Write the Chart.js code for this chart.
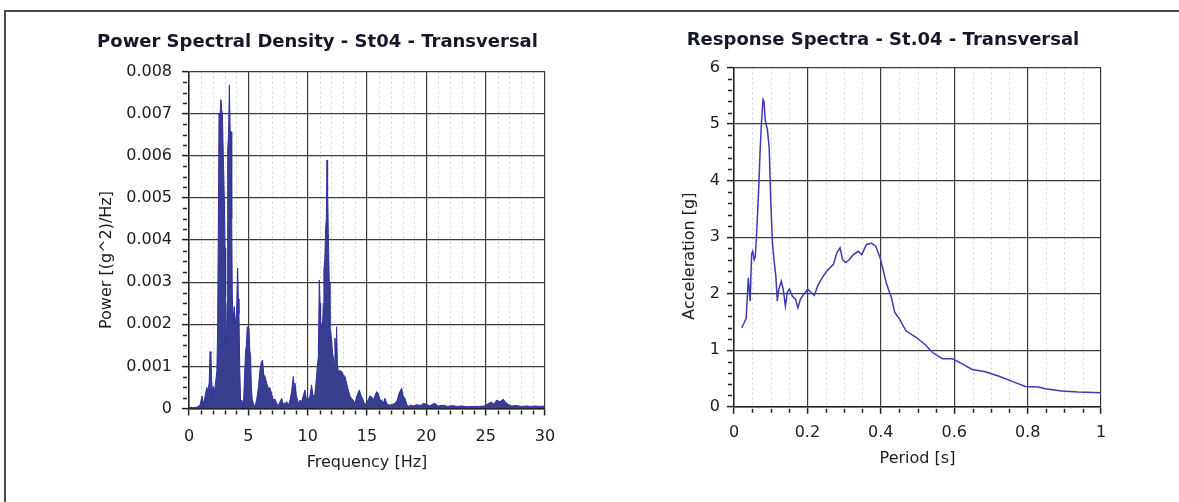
<!DOCTYPE html>
<html>
<head>
<meta charset="utf-8">
<title>St04 - Transversal</title>
<script src="https://cdn.jsdelivr.net/npm/chart.js@4.4.0/dist/chart.umd.min.js"></script>
<style>
  html, body { margin: 0; padding: 0; background: #fff; }
  body { width: 1179px; height: 502px; position: relative; overflow: hidden; }
  #frame { position: absolute; left: 4px; top: 10px; width: 1200px; height: 520px;
           border-left: 2px solid #4a4a4a; border-top: 2px solid #4a4a4a; }
  .box { position: absolute; top: 0; height: 502px; }
  #psdBox { left: 0; width: 590px; }
  #rsBox { left: 590px; width: 589px; }
</style>
</head>
<body>
<div id="frame"></div>
<div class="box" id="psdBox"><canvas id="psdChart"></canvas></div>
<div class="box" id="rsBox"><canvas id="rsChart"></canvas></div>

<script>
// Power spectral density (Hz -> (g^2)/Hz)
const psdFreq = [
  0.0, 0.3, 0.65, 0.93, 1.1, 1.2, 1.35, 1.5, 1.57, 1.7, 1.77, 1.85, 1.91, 2.0, 2.05, 2.15,
  2.25, 2.35, 2.41, 2.47, 2.53, 2.6, 2.69, 2.75, 2.81, 2.9, 2.98, 3.04, 3.09, 3.13, 3.17, 3.21,
  3.26, 3.33, 3.4, 3.47, 3.54, 3.6, 3.65, 3.72, 3.82, 3.9, 4.01, 4.1, 4.16, 4.21, 4.28, 4.35,
  4.45, 4.58, 4.66, 4.77, 4.84, 4.91, 5.05, 5.12, 5.19, 5.26, 5.33, 5.45, 5.56, 5.7, 5.85, 5.98,
  6.1, 6.2, 6.3, 6.4, 6.55, 6.68, 6.8, 6.96, 7.1, 7.25, 7.39, 7.55, 7.7, 7.81, 7.95, 8.1,
  8.23, 8.4, 8.51, 8.65, 8.79, 8.86, 8.93, 9.05, 9.21, 9.35, 9.49, 9.63, 9.77, 9.9, 10.05, 10.2,
  10.33, 10.45, 10.6, 10.7, 10.81, 10.9, 10.98, 11.04, 11.09, 11.18, 11.26, 11.32, 11.37, 11.44, 11.51, 11.57,
  11.63, 11.68, 11.74, 11.82, 11.88, 11.95, 12.02, 12.1, 12.16, 12.23, 12.3, 12.38, 12.44, 12.5, 12.58, 12.72,
  12.86, 13.0, 13.14, 13.28, 13.42, 13.56, 13.7, 13.84, 13.98, 14.15, 14.35, 14.5, 14.63, 14.8, 14.97, 15.1,
  15.25, 15.38, 15.53, 15.67, 15.81, 15.95, 16.09, 16.23, 16.37, 16.51, 16.7, 16.93, 17.15, 17.36, 17.55, 17.7,
  17.78, 17.92, 18.05, 18.2, 18.35, 18.48, 18.7, 18.9, 19.2, 19.5, 19.75, 20.02, 20.3, 20.5, 20.73, 21.0,
  21.4, 21.8, 22.2, 22.6, 23.0, 23.5, 24.0, 24.5, 24.9, 25.23, 25.5, 25.7, 25.92, 26.2, 26.48, 26.7,
  26.9, 27.2, 27.6, 28.0, 28.4, 28.8, 29.2, 29.6, 30.0
];
const psdPower = [
  0.00003, 0.00002, 0.00003, 0.00008, 0.0003, 0.0001, 0.00028, 0.0005, 0.0004, 0.0006, 0.00135, 0.0013, 0.00066, 0.0003, 0.00052, 0.0004,
  0.00064, 0.0009, 0.00182, 0.0042, 0.007, 0.0069, 0.00733, 0.0071, 0.007, 0.0059, 0.00495, 0.0038, 0.00266, 0.0015, 0.00146, 0.0025,
  0.00614, 0.0065, 0.00768, 0.0066, 0.00657, 0.0045, 0.00262, 0.0021, 0.00242, 0.002, 0.00226, 0.00333, 0.0026, 0.00226, 0.0009, 0.00016,
  0.0002, 0.00005, 0.0006, 0.00138, 0.0015, 0.00194, 0.0019, 0.0014, 0.00123, 0.0005, 0.0002, 0.0001, 0.00004, 0.0002, 0.0005, 0.00091,
  0.0011, 0.00115, 0.0008, 0.00076, 0.0006, 0.00048, 0.0005, 0.00036, 0.0002, 0.00022, 0.00012, 0.00008, 0.00018, 0.00024, 0.0001, 0.00012,
  0.00016, 0.00008, 0.0002, 0.0004, 0.00076, 0.0005, 0.0006, 0.0003, 0.00012, 0.0002, 0.00016, 0.0003, 0.00044, 0.0002, 0.0002, 0.0003,
  0.00056, 0.0003, 0.00032, 0.0006, 0.00099, 0.00123, 0.00305, 0.0025, 0.0021, 0.0019, 0.00203, 0.0025, 0.0033, 0.0035, 0.00424, 0.0045,
  0.0059, 0.0052, 0.00416, 0.003, 0.00194, 0.0018, 0.00163, 0.0013, 0.00123, 0.0011, 0.00167, 0.0012, 0.00194, 0.0011, 0.00087, 0.0009,
  0.00088, 0.0008, 0.00076, 0.0006, 0.00044, 0.0003, 0.00024, 0.0002, 0.00012, 0.0003, 0.00044, 0.0003, 0.00024, 0.0001, 0.00012, 0.0002,
  0.0003, 0.00028, 0.0002, 0.0003, 0.0004, 0.00036, 0.0002, 0.0002, 0.00012, 0.00024, 0.0001, 0.00008, 0.0001, 0.00012, 0.0002, 0.00036,
  0.00036, 0.00048, 0.0003, 0.00024, 0.0001, 0.00005, 0.00008, 0.00006, 0.00009, 0.00007, 0.00012, 0.0001, 0.00006, 0.0001, 0.00012, 0.00006,
  0.00008, 0.00005, 0.00007, 0.00005, 0.00006, 0.00004, 0.00005, 0.00005, 0.00006, 0.00012, 0.00015, 0.0001, 0.0002, 0.00016, 0.00022, 0.00014,
  0.0001, 0.00006, 0.00007, 0.00005, 0.00006, 0.00005, 0.00006, 0.00005, 0.00006
];

// Response spectrum (period s -> acceleration g)
const rsPeriod = [
  0.021, 0.028, 0.033, 0.037, 0.039, 0.044, 0.048, 0.051, 0.055, 0.058, 0.062, 0.068, 0.071, 0.075, 0.079, 0.082,
  0.085, 0.091, 0.096, 0.1, 0.105, 0.109, 0.114, 0.118, 0.122, 0.129, 0.134, 0.14, 0.145, 0.151, 0.159, 0.168,
  0.174, 0.181, 0.19, 0.201, 0.21, 0.219, 0.228, 0.24, 0.253, 0.271, 0.28, 0.289, 0.296, 0.305, 0.314, 0.325,
  0.339, 0.348, 0.361, 0.375, 0.386, 0.397, 0.406, 0.415, 0.429, 0.438, 0.451, 0.469, 0.496, 0.519, 0.541, 0.568,
  0.595, 0.622, 0.649, 0.685, 0.722, 0.758, 0.794, 0.83, 0.848, 0.893, 0.938, 1.0
];
const rsAccel = [
  1.4, 1.49, 1.56, 2.02, 2.28, 1.87, 2.7, 2.75, 2.6, 2.65, 3.1, 3.96, 4.51, 5.04, 5.43, 5.39,
  5.07, 4.9, 4.57, 3.66, 2.87, 2.6, 2.31, 1.87, 2.08, 2.22, 2.08, 1.78, 2.02, 2.08, 1.96, 1.9,
  1.75, 1.9, 1.99, 2.08, 2.02, 1.97, 2.14, 2.28, 2.4, 2.52, 2.72, 2.81, 2.6, 2.55, 2.6, 2.69,
  2.75, 2.69, 2.87, 2.89, 2.84, 2.66, 2.43, 2.19, 1.93, 1.67, 1.55, 1.34, 1.23, 1.11, 0.96, 0.85,
  0.85, 0.76, 0.66, 0.62, 0.54, 0.45, 0.36, 0.35, 0.32, 0.28, 0.26, 0.25
];

const FONT = '"DejaVu Sans", Verdana, sans-serif';
const INK = '#1c1c1c';
const GRID = '#3c3c3c';

Chart.defaults.font.family = FONT;
Chart.defaults.color = INK;
Chart.defaults.animation = false;

// minor ticks + dashed light minor grid, positioned by the scales
const minorTicks = {
  id: 'minorTicks',
  beforeDraw(chart, args, opts) {
    const { ctx, chartArea: a, scales: { x } } = chart;
    const n = Math.round((x.max - x.min) / opts.x);
    ctx.save();
    ctx.strokeStyle = '#d2d2d2';
    ctx.lineWidth = 1;
    ctx.setLineDash([2, 3]);
    for (let i = 1; i < n; i++) {
      if (i % opts.xPer === 0) continue;
      const px = Math.round(x.getPixelForValue(x.min + i * opts.x)) + 0.5;
      ctx.beginPath();
      ctx.moveTo(px, a.top);
      ctx.lineTo(px, a.bottom);
      ctx.stroke();
    }
    ctx.restore();
  },
  afterDraw(chart, args, opts) {
    const { ctx, chartArea: a, scales: { x, y } } = chart;
    ctx.save();
    ctx.strokeStyle = '#222';
    ctx.lineWidth = 1.5;
    const nx = Math.round((x.max - x.min) / opts.x);
    for (let i = 0; i <= nx; i++) {
      if (i % opts.xPer === 0) continue;
      const px = Math.round(x.getPixelForValue(x.min + i * opts.x)) + 0.5;
      ctx.beginPath();
      ctx.moveTo(px, a.bottom + 2);
      ctx.lineTo(px, a.bottom + 6);
      ctx.stroke();
    }
    const ny = Math.round((y.max - y.min) / opts.y);
    for (let i = 0; i <= ny; i++) {
      if (i % opts.yPer === 0) continue;
      const py = Math.round(y.getPixelForValue(y.min + i * opts.y)) + 0.5;
      ctx.beginPath();
      ctx.moveTo(a.left - 6, py);
      ctx.lineTo(a.left - 2, py);
      ctx.stroke();
    }
    ctx.restore();
  }
};

// vertical axis title, placed against the plot area
const yTitle = {
  id: 'yTitle',
  afterDraw(chart, args, opts) {
    const { ctx, chartArea: a } = chart;
    ctx.save();
    ctx.translate(a.left - opts.dx, (a.top + a.bottom) / 2 + opts.dy);
    ctx.rotate(-Math.PI / 2);
    ctx.font = '16px ' + FONT;
    ctx.fillStyle = INK;
    ctx.textAlign = 'center';
    ctx.textBaseline = 'middle';
    ctx.fillText(opts.text, 0, 0);
    ctx.restore();
  }
};

function axisX(min, max, step, title, labelPad, titlePad, fmt) {
  return {
    type: 'linear', min: min, max: max,
    afterFit: s => { s.height = 66; },
    border: { display: true, color: '#222', width: 1.5 },
    grid: { color: GRID, lineWidth: 1.2, tickLength: 7, tickColor: '#222', tickWidth: 1.5 },
    ticks: { stepSize: step, padding: labelPad, maxRotation: 0, font: { size: 16 }, color: INK, callback: fmt },
    title: { display: true, text: title, font: { size: 16 }, color: INK, padding: { top: 0, bottom: titlePad } }
  };
}

function axisY(min, max, step, width, labelPad, fmt) {
  return {
    min: min, max: max,
    afterFit: s => { s.width = width; },
    border: { display: true, color: '#222', width: 1.5 },
    grid: { color: GRID, lineWidth: 1.2, tickLength: 7, tickColor: '#222', tickWidth: 1.5 },
    ticks: { stepSize: step, padding: labelPad, font: { size: 16 }, color: INK, callback: fmt }
  };
}

function chartTitle(text, top, bottom) {
  return {
    display: true, text: text, color: '#17172a',
    font: { size: 18, weight: 'bold' },
    padding: { top: top, bottom: bottom }
  };
}

new Chart(document.getElementById('psdChart'), {
  type: 'line',
  data: {
    datasets: [{
      data: psdFreq.map((f, i) => ({ x: f, y: psdPower[i] })),
      borderColor: '#2e2ea6',
      backgroundColor: '#393e8e',
      borderWidth: 1,
      fill: 'origin',
      pointRadius: 0,
      tension: 0
    }]
  },
  options: {
    responsive: true,
    maintainAspectRatio: false,
    layout: { padding: { left: 90, right: 45, top: 0, bottom: 27.5 } },
    scales: {
      x: axisX(0, 30, 5, 'Frequency [Hz]', 12, 1.9, v => String(Math.round(v))),
      y: axisY(0, 0.008, 0.001, 99, 10, v => v === 0 ? '0' : v.toFixed(3))
    },
    plugins: {
      legend: { display: false },
      tooltip: { enabled: false },
      title: chartTitle('Power Spectral Density - St04 - Transversal', 31.2, 18.7),
      minorTicks: { x: 1, xPer: 5, y: 0.00025, yPer: 4 },
      yTitle: { text: 'Power [(g^2)/Hz]', dx: 82, dy: 20 }
    }
  },
  plugins: [minorTicks, yTitle]
});

new Chart(document.getElementById('rsChart'), {
  type: 'line',
  data: {
    datasets: [{
      data: rsPeriod.map((p, i) => ({ x: p, y: rsAccel[i] })),
      borderColor: '#3b3bb4',
      borderWidth: 1.5,
      fill: false,
      pointRadius: 0,
      tension: 0
    }]
  },
  options: {
    responsive: true,
    maintainAspectRatio: false,
    layout: { padding: { left: 75, right: 78, top: 0, bottom: 29.2 } },
    scales: {
      x: axisX(0, 1, 0.2, 'Period [s]', 9.6, 4.2, v => String(Math.round(v * 10) / 10)),
      y: axisY(0, 6, 1, 69, 7)
    },
    plugins: {
      legend: { display: false },
      tooltip: { enabled: false },
      title: chartTitle('Response Spectra - St.04 - Transversal', 29.2, 16.7),
      minorTicks: { x: 0.05, xPer: 4, y: 0.2, yPer: 5 },
      yTitle: { text: 'Acceleration [g]', dx: 44, dy: 19 }
    }
  },
  plugins: [minorTicks, yTitle]
});
</script>
</body>
</html>
